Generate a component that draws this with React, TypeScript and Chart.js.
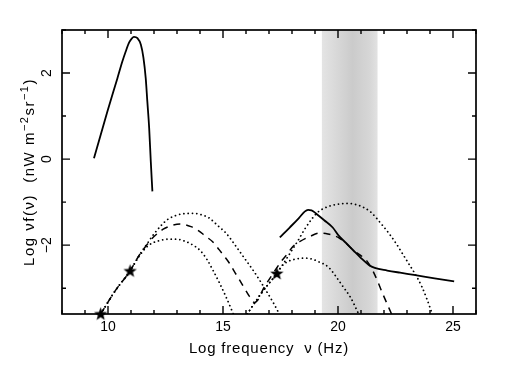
import React, { useEffect, useRef } from 'react';
import { Chart, registerables } from 'chart.js';
Chart.register(...registerables);

// ---- axes ----
const X_MIN = 8;
const X_MAX = 26;
const Y_MIN = -3.6;
const Y_MAX = 3;
const X_TICKS = [10, 15, 20, 25];
const Y_TICKS = [-2, 0, 2];
const BAND = [19.3, 21.72];
const X_TITLE = 'Log frequency  ν (Hz)';
const Y_TITLE_PARTS: [string, boolean][] = [['Log νf(ν)  (nW m', false], ['\u22122', true], ['sr', false], ['\u22121', true], [')', false]];

// ---- solid: CMB-like peak ----
const CMB_X = [9.39, 9.97, 10.41, 10.62, 10.77, 10.92, 11.03, 11.13, 11.28, 11.43, 11.54, 11.64, 11.71, 11.79, 11.86, 11.93];
const CMB_Y = [0.02, 1.1, 1.88, 2.26, 2.5, 2.71, 2.8, 2.84, 2.81, 2.66, 2.36, 1.88, 1.34, 0.72, -0.05, -0.75];

// ---- solid: high-energy curve ----
const XR_X = [17.47, 17.9, 18.3, 18.55, 18.7, 18.85, 19.08, 19.4, 19.77, 20.03, 20.35, 20.68, 21.0, 21.34, 21.6, 22.14, 22.7, 23.3, 24.2, 25.05];
const XR_Y = [-1.82, -1.59, -1.37, -1.22, -1.18, -1.19, -1.28, -1.42, -1.59, -1.78, -1.95, -2.13, -2.3, -2.46, -2.53, -2.59, -2.64, -2.69, -2.77, -2.84];

// ---- dashed model ----
const DASH_X = [9.68, 10.34, 10.96, 11.35, 11.71, 12.0, 12.4, 12.8, 13.17, 13.61, 13.9, 14.26, 14.55, 14.84, 15.06, 15.28, 15.49, 15.71, 15.93, 16.15, 16.37, 16.55, 16.73, 17.1, 17.53, 17.82, 18.04, 18.33, 18.77, 19.2, 19.56, 20.07, 20.68, 21.3, 21.6, 21.96, 22.33];
const DASH_Y = [-3.6, -3.04, -2.6, -2.24, -1.98, -1.8, -1.63, -1.54, -1.51, -1.57, -1.65, -1.8, -1.92, -2.11, -2.26, -2.42, -2.61, -2.8, -3.0, -3.19, -3.33, -3.25, -3.04, -2.72, -2.38, -2.19, -2.03, -1.92, -1.8, -1.72, -1.74, -1.84, -2.12, -2.4, -2.69, -3.15, -3.6];

// ---- dotted models ----
const DOT1_X = [9.68, 10.34, 10.96, 11.35, 11.71, 12.0, 12.3, 12.6, 12.95, 13.3, 13.68, 14.1, 14.4, 14.8, 15.13, 15.5, 15.9, 16.29, 16.6, 16.9, 17.2, 17.45];
const DOT1_Y = [-3.6, -3.04, -2.6, -2.24, -1.96, -1.74, -1.55, -1.4, -1.31, -1.27, -1.26, -1.3, -1.37, -1.56, -1.72, -1.98, -2.28, -2.57, -2.82, -3.08, -3.35, -3.6];

const DOT2_X = [9.68, 10.34, 10.96, 11.35, 11.71, 11.93, 12.2, 12.45, 12.7, 12.95, 13.3, 13.6, 14.0, 14.3, 14.55, 14.84, 15.13, 15.45];
const DOT2_Y = [-3.6, -3.04, -2.6, -2.26, -2.03, -1.95, -1.9, -1.87, -1.86, -1.86, -1.9, -1.97, -2.12, -2.33, -2.57, -2.87, -3.2, -3.6];

const DOT3_X = [16.05, 16.73, 17.34, 17.9, 18.3, 18.55, 18.85, 19.13, 19.45, 19.71, 20.1, 20.44, 20.8, 21.1, 21.4, 21.67, 21.95, 22.25, 22.55, 22.83, 23.12, 23.42, 23.65, 23.85, 24.1];
const DOT3_Y = [-3.6, -3.07, -2.66, -2.2, -1.86, -1.63, -1.4, -1.23, -1.13, -1.08, -1.04, -1.03, -1.06, -1.12, -1.22, -1.37, -1.55, -1.75, -1.98, -2.22, -2.47, -2.73, -2.97, -3.23, -3.6];

const DOT4_X = [16.05, 16.73, 17.34, 17.53, 17.82, 18.11, 18.55, 18.85, 19.13, 19.56, 19.86, 20.2, 20.54, 20.9];
const DOT4_Y = [-3.6, -3.07, -2.66, -2.5, -2.38, -2.33, -2.3, -2.32, -2.38, -2.5, -2.69, -2.95, -3.21, -3.6];

// ---- measured points (stars) ----
const STAR_X = [9.68, 10.96, 17.34];
const STAR_Y = [-3.6, -2.6, -2.66];

const FONT = "'Liberation Sans', Arial, Helvetica, sans-serif";

const pts = (xs: number[], ys: number[]) => xs.map((x, i) => ({ x, y: ys[i] }));

function makeStar(): HTMLCanvasElement {
  const c = document.createElement('canvas');
  c.width = 15;
  c.height = 15;
  const g = c.getContext('2d')!;
  g.fillStyle = '#000';
  g.beginPath();
  const cx = 7.5, cy = 7.8, R = 7, r = 2.9;
  for (let i = 0; i < 10; i++) {
    const a = -Math.PI / 2 + (i * Math.PI) / 5;
    const rr = i % 2 === 0 ? R : r;
    const px = cx + rr * Math.cos(a);
    const py = cy + rr * Math.sin(a);
    if (i === 0) g.moveTo(px, py);
    else g.lineTo(px, py);
  }
  g.closePath();
  g.fill();
  return c;
}

const framePlugin = {
  id: 'frameAndBand',
  beforeDatasetsDraw(chart: any) {
    const { ctx, chartArea: a, scales } = chart;
    const x0 = scales.x.getPixelForValue(BAND[0]);
    const x1 = scales.x.getPixelForValue(BAND[1]);
    const grad = ctx.createLinearGradient(x0, 0, x1, 0);
    grad.addColorStop(0, '#e4e4e4');
    grad.addColorStop(0.18, '#dcdcdc');
    grad.addColorStop(0.55, '#cbcbcb');
    grad.addColorStop(0.85, '#d6d6d6');
    grad.addColorStop(1, '#e2e2e2');
    ctx.save();
    ctx.fillStyle = grad;
    ctx.fillRect(x0, a.top, x1 - x0, a.bottom - a.top);
    ctx.restore();
  },
  afterDraw(chart: any) {
    const { ctx, chartArea: a, scales } = chart;
    ctx.save();
    ctx.strokeStyle = '#000';
    ctx.lineWidth = 1.7;
    ctx.strokeRect(a.left, a.top, a.right - a.left, a.bottom - a.top);
    ctx.lineWidth = 1.4;
    ctx.beginPath();
    for (let v = Math.ceil(X_MIN); v <= Math.floor(X_MAX); v++) {
      const px = scales.x.getPixelForValue(v);
      const len = X_TICKS.includes(v) ? 8 : 4;
      ctx.moveTo(px, a.bottom);
      ctx.lineTo(px, a.bottom - len);
      ctx.moveTo(px, a.top);
      ctx.lineTo(px, a.top + len);
    }
    for (let v = Math.ceil(Y_MIN); v <= Math.floor(Y_MAX); v++) {
      const py = scales.y.getPixelForValue(v);
      const len = Y_TICKS.includes(v) ? 8 : 4;
      ctx.moveTo(a.left, py);
      ctx.lineTo(a.left + len, py);
      ctx.moveTo(a.right, py);
      ctx.lineTo(a.right - len, py);
    }
    ctx.stroke();

    // axis titles
    ctx.fillStyle = '#000';
    ctx.textBaseline = 'alphabetic';
    ctx.font = `15px ${FONT}`;
    (ctx as any).letterSpacing = '0.8px';
    ctx.textAlign = 'center';
    ctx.fillText(X_TITLE, (a.left + a.right) / 2, 353);

    (ctx as any).letterSpacing = '1.5px';
    ctx.textAlign = 'left';
    const fontOf = (sup: boolean) => (sup ? `11px ${FONT}` : `15px ${FONT}`);
    let total = 0;
    const widths = Y_TITLE_PARTS.map(([t, sup]) => {
      ctx.font = fontOf(sup);
      const w = ctx.measureText(t).width;
      total += w;
      return w;
    });
    ctx.translate(34, (a.top + a.bottom) / 2);
    ctx.rotate(-Math.PI / 2);
    let x = -total / 2;
    Y_TITLE_PARTS.forEach(([t, sup], i) => {
      ctx.font = fontOf(sup);
      ctx.fillText(t, x, sup ? -6 : 0);
      x += widths[i];
    });
    ctx.restore();
  },
};

export default function App() {
  const ref = useRef<HTMLCanvasElement | null>(null);
  useEffect(() => {
    document.body.style.margin = '0';
    const star = makeStar();
    const solid = { borderColor: '#000', borderWidth: 1.8, pointRadius: 0, showLine: true, cubicInterpolationMode: 'monotone' as const };
    const dotted = { ...solid, borderWidth: 1.8, borderDash: [0.01, 4.3], borderCapStyle: 'round' as const };
    const dashed = { ...solid, borderWidth: 1.5, borderDash: [7, 6] };
    const chart = new Chart(ref.current!, {
      type: 'scatter',
      data: {
        datasets: [
          { ...dotted, data: pts(DOT1_X, DOT1_Y) },
          { ...dotted, data: pts(DOT2_X, DOT2_Y) },
          { ...dotted, data: pts(DOT3_X, DOT3_Y) },
          { ...dotted, data: pts(DOT4_X, DOT4_Y) },
          { ...dashed, data: pts(DASH_X, DASH_Y) },
          { ...solid, data: pts(CMB_X, CMB_Y) },
          { ...solid, data: pts(XR_X, XR_Y) },
          { data: pts(STAR_X, STAR_Y), showLine: false, pointStyle: star as any, pointRadius: 7, clip: false as any },
        ] as any,
      },
      options: {
        responsive: false,
        animation: false,
        layout: { padding: { left: 0, right: 32, top: 30, bottom: 0 } },
        plugins: { legend: { display: false }, tooltip: { enabled: false } },
        scales: {
          x: {
            type: 'linear',
            min: X_MIN,
            max: X_MAX,
            grid: { display: false, drawTicks: false },
            border: { display: false },
            afterBuildTicks: (s: any) => { s.ticks = X_TICKS.map((v) => ({ value: v })); },
            afterFit: (s: any) => { s.height = 68; },
            ticks: { color: '#000', padding: 5, font: { family: FONT, size: 14 }, maxRotation: 0, autoSkip: false },
          },
          y: {
            type: 'linear',
            min: Y_MIN,
            max: Y_MAX,
            grid: { display: false, drawTicks: false },
            border: { display: false },
            afterBuildTicks: (s: any) => { s.ticks = Y_TICKS.map((v) => ({ value: v })); },
            afterFit: (s: any) => { s.width = 62; },
            ticks: {
              color: '#000', padding: 7, font: { family: FONT, size: 14 }, minRotation: 90, maxRotation: 90, crossAlign: 'center', autoSkip: false,
              callback: (v: any) => (v < 0 ? '\u2212' + Math.abs(v) : String(v)),
            },
          },
        },
      },
      plugins: [framePlugin],
    });
    return () => chart.destroy();
  }, []);
  return (
    <div style={{ position: 'fixed', left: 0, top: 0, width: 508, height: 382, background: '#fff' }}>
      <canvas ref={ref} width={508} height={382} style={{ width: 508, height: 382, display: 'block' }} />
    </div>
  );
}
